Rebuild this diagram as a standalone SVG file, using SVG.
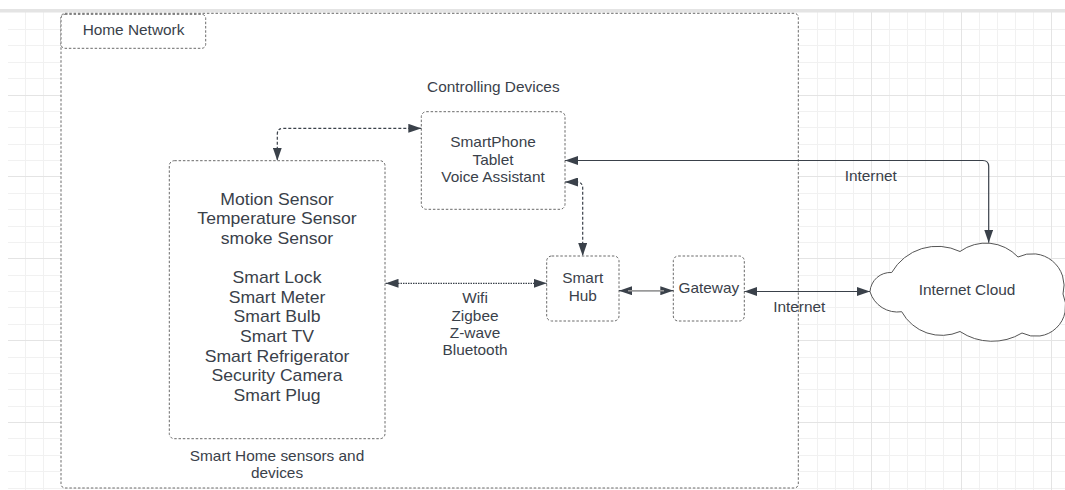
<svg xmlns="http://www.w3.org/2000/svg" width="1065" height="490" viewBox="0 0 1065 490">
<style>
.t{font-family:"Liberation Sans",Arial,sans-serif;font-size:14px;fill:#3a414a;text-anchor:middle}
.b{font-size:16px}
.box{fill:#fff;stroke:#6a6a6a;stroke-width:1;stroke-dasharray:2.5 1.8}
.gmin{fill:none;stroke:#f1f1f1;stroke-width:1}
.gmaj{fill:none;stroke:#e4e4e4;stroke-width:1}
.c{fill:none;stroke:#3a414a;stroke-width:1.2}
.d{stroke-dasharray:3 2}
.ah{marker-start:url(#arr);marker-end:url(#arr)}
</style>
<defs>
<marker id="arr" markerUnits="userSpaceOnUse" markerWidth="13" markerHeight="9" viewBox="0 0 13 9" refX="13" refY="4.5" orient="auto-start-reverse">
<path d="M0,0 L13,4.5 L0,9 Z" fill="#3a414a"/>
</marker>
</defs>
<rect x="0" y="0" width="1065" height="490" fill="#fff"/>
<g id="grid">
<path class="gmin" d="M25.5 12V490M43.5 12V490M817.5 12V490M835.5 12V490M853.5 12V490M889.5 12V490M907.5 12V490M925.5 12V490M943.5 12V490M979.5 12V490M997.5 12V490M1015.5 12V490M1033.5 12V490
M8 29.5H1065M8 45.5H1065M8 62.5H1065M8 78.5H1065M8 111.5H1065M8 127.5H1065M8 144.5H1065M8 160.5H1065M8 193.5H1065M8 209.5H1065M8 226.5H1065M8 242.5H1065M8 275.5H1065M8 291.5H1065M8 307.5H1065M8 324.5H1065M8 357.5H1065M8 373.5H1065M8 389.5H1065M8 406.5H1065M8 438.5H1065M8 455.5H1065M8 471.5H1065M8 488.5H1065"/>
<path class="gmaj" d="M871.5 12V490M961.5 12V490M1051.5 12V490M8 95.5H1065M8 176.5H1065M8 258.5H1065M8 340.5H1065M8 422.5H1065"/>
<rect x="0" y="9" width="1065" height="3.5" fill="#e4e4e4"/>
</g>
<g id="home-network">
<rect class="box" x="61" y="13.3" width="737.3" height="474.7" rx="4"/>
<rect class="box" x="61" y="14.3" width="144.7" height="34" rx="4"/>
<text class="t" transform="matrix(1.1 0 0 1 133.5 35)">Home Network</text>
</g>
<g id="controlling-devices">
<text class="t" transform="matrix(1.1 0 0 1 493.3 91.7)">Controlling Devices</text>
<rect class="box" x="421.3" y="111.7" width="143.7" height="97.6" rx="5"/>
<text class="t" transform="matrix(1.1 0 0 1 493 147)">SmartPhone</text>
<text class="t" transform="matrix(1.1 0 0 1 493 164.6)">Tablet</text>
<text class="t" transform="matrix(1.1 0 0 1 493 182.3)">Voice Assistant</text>
</g>
<g id="sensors">
<rect class="box" x="169.3" y="160.7" width="215.7" height="278" rx="5"/>
<text class="t b" transform="matrix(1.1 0 0 1 277 204.7)">Motion Sensor</text>
<text class="t b" transform="matrix(1.1 0 0 1 277 224.3)">Temperature Sensor</text>
<text class="t b" transform="matrix(1.1 0 0 1 277 243.9)">smoke Sensor</text>
<text class="t b" transform="matrix(1.1 0 0 1 277 283.1)">Smart Lock</text>
<text class="t b" transform="matrix(1.1 0 0 1 277 302.7)">Smart Meter</text>
<text class="t b" transform="matrix(1.1 0 0 1 277 322.3)">Smart Bulb</text>
<text class="t b" transform="matrix(1.1 0 0 1 277 341.9)">Smart TV</text>
<text class="t b" transform="matrix(1.1 0 0 1 277 361.5)">Smart Refrigerator</text>
<text class="t b" transform="matrix(1.1 0 0 1 277 381.1)">Security Camera</text>
<text class="t b" transform="matrix(1.1 0 0 1 277 400.7)">Smart Plug</text>
<text class="t" transform="matrix(1.1 0 0 1 277 461)">Smart Home sensors and</text>
<text class="t" transform="matrix(1.1 0 0 1 277 478)">devices</text>
</g>
<g id="smart-hub">
<rect class="box" x="546.7" y="256" width="72.3" height="65" rx="5"/>
<text class="t" transform="matrix(1.1 0 0 1 582.8 283.3)">Smart</text>
<text class="t" transform="matrix(1.1 0 0 1 582.8 300.7)">Hub</text>
</g>
<g id="gateway">
<rect class="box" x="673.3" y="256" width="71" height="65" rx="5"/>
<text class="t" transform="matrix(1.1 0 0 1 708.8 292.7)">Gateway</text>
</g>
<g id="internet-cloud">
<path d="M870,291.7 A20.5 20.5 0 0 1 891.7,272.5 A52.6 52.6 0 0 1 960,251.5 A44 44 0 0 1 1018,257 A32 32 0 0 1 1063,294 A30 30 0 0 1 1022,333 A58 58 0 0 1 960,331.5 A45.5 45.5 0 0 1 901.7,311.7 A28.6 28.6 0 0 1 870,291.7 Z" fill="#fff" stroke="#555" stroke-width="1"/>
<text class="t" transform="matrix(1.1 0 0 1 967 295)">Internet Cloud</text>
</g>
<g id="connectors">
<path class="c d ah" d="M421.3,128.3 H283.3 Q277.3,128.3 277.3,134.3 V160.7"/>
<path class="c ah" d="M565,160.5 H982.7 Q988.7,160.5 988.7,166.5 V242.7"/>
<path class="c d ah" d="M565,182 H576.7 Q582.7,182 582.7,188 V256"/>
<path class="c ah" stroke-dasharray="1.5 1" d="M385.5,283.3 H546.7"/>
<path class="c ah" stroke-width="3.6" d="M619,290.7 H673.3"/>
<path d="M628,290.7 H664" stroke="#9a9a9a" stroke-width="1.6"/>
<path class="c ah" d="M744.3,291.5 H870"/>
<text class="t" transform="matrix(1.1 0 0 1 475 303.3)">Wifi</text>
<text class="t" transform="matrix(1.1 0 0 1 475 320.6)">Zigbee</text>
<text class="t" transform="matrix(1.1 0 0 1 475 337.9)">Z-wave</text>
<text class="t" transform="matrix(1.1 0 0 1 475 355.2)">Bluetooth</text>
<text class="t" transform="matrix(1.1 0 0 1 870.8 180.7)">Internet</text>
<text class="t" transform="matrix(1.1 0 0 1 799.3 311.7)">Internet</text>
</g>
</svg>
